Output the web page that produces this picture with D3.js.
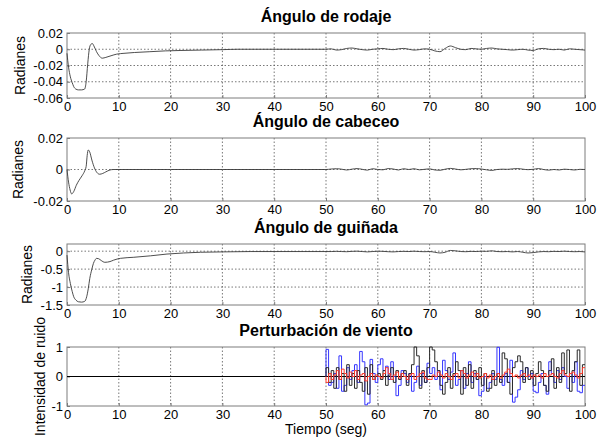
<!DOCTYPE html>
<html>
<head>
<meta charset="utf-8">
<script src="https://cdn.jsdelivr.net/npm/d3@7"></script>
<style>
  body { margin: 0; background: #fff; }
  svg { display: block; font-family: "Liberation Sans", Arial, sans-serif; }
</style>
</head>
<body>
<svg id="fig" width="600" height="444"></svg>
<script>
// ---- data ----------------------------------------------------------
const xTicks = [0, 10, 20, 30, 40, 50, 60, 70, 80, 90, 100];

const titles = ["Ángulo de rodaje", "Ángulo de cabeceo", "Ángulo de guiñada", "Perturbación de viento"];
const yLabels = ["Radianes", "Radianes", "Radianes", "Intensidad de ruido"];
const xLabel = "Tiempo (seg)";

const rollTicks = [0.02, 0, -0.02, -0.04, -0.06];
const pitchTicks = [0.02, 0, -0.02];
const yawTicks = [0, -0.5, -1, -1.5];
const noiseTicks = [1, 0, -1];

// response after the initial transient: one sample per second, t = 51 .. 100
const postT = [51,52,53,54,55,56,57,58,59,60,61,62,63,64,65,66,67,68,69,70,
               71,72,73,74,75,76,77,78,79,80,81,82,83,84,85,86,87,88,89,90,
               91,92,93,94,95,96,97,98,99,100];

// roll angle (rad)
const rollT = [0,0.3,0.65,1,1.3,1.7,2.2,2.8,3.4,3.7,4.0,4.3,4.6,4.9,5.2,5.7,6.2,6.8,7.5,8.5,
               9.6,11,13,16,19,22,26,30,33,40,50];
const rollV = [-0.005,-0.022,-0.034,-0.041,-0.046,-0.049,-0.050,-0.050,-0.049,-0.040,
               -0.018,0.0,0.006,0.007,0.004,-0.003,-0.008,-0.011,-0.010,-0.008,
               -0.006,-0.005,-0.004,-0.003,-0.002,-0.0015,-0.001,-0.0005,0,0,0];
const rollPost = [0.0005,-0.001,-0.0005,0.001,0.0015,0.0005,-0.0005,-0.001,0.0,0.0005,
                  0.001,0.0,-0.0005,0.0005,0.001,0.0,-0.001,-0.0005,0.0005,0.0,
                  -0.002,-0.003,0.001,0.004,0.002,0.0,-0.0005,0.001,0.0005,0.0,
                  0.001,0.0015,0.0005,0.0,-0.0005,-0.001,-0.0005,0.0,-0.001,-0.0015,
                  0.0005,0.001,0.0,-0.0005,0.0,-0.001,0.0005,0.0,-0.0005,-0.001];

// pitch angle (rad)
const pitchT = [0,0.3,0.6,0.9,1.3,1.8,2.3,2.9,3.4,3.7,3.9,4.1,4.4,4.8,5.3,5.8,6.3,6.9,7.5,8.3,
                9,20,30,40,50];
const pitchV = [0,-0.008,-0.013,-0.0155,-0.014,-0.010,-0.007,-0.004,-0.001,0.002,
                0.009,0.0124,0.011,0.006,0.001,-0.002,-0.003,-0.0025,-0.0015,-0.0003,
                0,0,0,0,0];
const pitchPost = [0.0003,0.0005,0.0002,-0.0003,0.0002,0.0006,0.0001,-0.0004,0.0005,0.0,
                   -0.0002,0.0006,0.0003,-0.0003,0.0005,0.0,0.0005,-0.0002,0.0001,0.0004,
                   -0.0003,-0.0005,0.0002,0.0007,0.0003,-0.0002,0.0001,0.0005,0.0006,0.0003,
                   -0.0002,-0.0006,0.0,0.0002,0.0001,0.0004,0.0006,0.0002,-0.0001,0.0001,
                   0.0006,0.0,-0.0004,0.0,-0.0003,0.0002,0.0,-0.0003,0.0001,0.0];

// yaw angle (rad)
const yawT = [0,0.3,0.65,1,1.3,1.7,2.2,2.8,3.4,3.8,4.1,4.4,4.8,5.1,5.4,5.7,6.1,6.6,7.3,8.3,
              9,10.3,12.9,16.1,19.3,22.5,25.8,30,35.5,40,50];
const yawV = [-0.11,-0.6,-0.9,-1.12,-1.27,-1.36,-1.41,-1.42,-1.40,-1.27,
              -1.05,-0.76,-0.5,-0.34,-0.25,-0.2,-0.21,-0.26,-0.31,-0.29,
              -0.25,-0.2,-0.17,-0.13,-0.08,-0.05,-0.03,-0.02,-0.01,-0.01,-0.01];
const yawPost = [-0.01,-0.005,-0.01,-0.015,-0.005,0.0,-0.01,-0.02,-0.01,0.0,
                 -0.005,-0.015,-0.02,-0.01,-0.005,-0.01,0.0,-0.01,-0.015,-0.01,
                 -0.03,-0.05,-0.03,0.02,0.01,-0.01,-0.015,-0.005,-0.01,0.0,
                 -0.005,0.01,-0.01,-0.015,-0.01,-0.02,-0.01,-0.03,-0.05,-0.04,
                 -0.02,-0.01,-0.015,-0.005,-0.01,0.0,-0.01,-0.015,-0.01,-0.02];

// wind disturbance: held values, one every 0.5 s from t = 50
const noiseStart = 50, noiseStep = 0.5;
const windBlue = [0.92,-0.3,-0.2,0.1,-0.4,0.7,-0.5,-0.3,0.3,-0.1,
                  0.2,0.4,-0.2,0.85,0.5,-0.96,-0.9,0.58,0.1,-0.2,
                  0.4,0.6,0.2,0.35,-0.1,0.5,0.0,-0.65,-0.3,0.2,
                  0.1,-0.2,0.1,-0.5,-0.2,0.35,-0.3,0.1,-0.2,0.45,
                  0.1,0.3,-0.1,0.2,-0.45,0.55,0.2,-0.1,0.15,0.8,
                  -0.3,-0.1,0.2,-0.4,0.1,0.5,-0.2,0.1,-0.1,-0.65,
                  -0.5,0.0,-0.4,-0.2,0.1,-0.1,0.99,-0.1,-0.3,0.1,
                  -0.2,0.55,-0.87,-0.7,-0.45,0.2,-0.1,0.3,0.0,0.1,
                  -0.5,-0.55,-0.2,0.1,-0.3,-0.6,0.5,0.1,-0.2,0.2,
                  -0.1,0.3,0.0,-0.4,0.1,-0.2,0.5,-0.5,-0.55,-0.3];
const windBlack = [0.3,-0.2,0.2,-0.4,0.3,-0.1,0.1,-0.5,0.4,-0.3,
                   0.1,-0.4,0.2,-0.2,-0.5,0.3,-0.6,0.4,-0.1,0.0,
                   0.1,-0.1,0.2,-0.3,0.05,0.3,-0.2,0.2,-0.1,0.1,
                   0.2,-0.3,0.1,0.4,1.0,0.7,-0.4,0.2,-0.2,0.3,
                   1.0,0.9,0.5,0.2,-0.3,-0.6,-0.2,0.3,-0.4,0.1,
                   0.5,0.2,-0.6,0.3,-0.3,0.4,-0.4,0.2,-0.1,0.3,
                   -0.3,0.1,-0.5,-0.4,0.2,-0.3,0.1,-0.2,0.8,0.6,
                   -0.2,-0.6,0.3,0.5,0.7,0.5,-0.2,0.3,-0.1,0.2,
                   -0.3,0.1,0.5,0.2,-0.3,-0.5,0.2,0.6,-0.4,0.3,
                   -0.2,0.8,0.1,0.9,-0.5,0.2,0.5,0.9,-0.3,0.4];
const windRed = [-0.2,0.1,-0.1,0.05,0.2,-0.1,0.25,0.1,-0.05,0.15,
                 0.0,0.2,-0.1,0.05,0.1,-0.15,0.0,0.1,-0.1,0.05,
                 0.0,-0.05,0.1,0.3,0.1,-0.1,0.05,0.15,-0.05,0.1,
                 0.0,-0.1,0.05,0.1,-0.1,0.0,0.1,0.15,-0.05,-0.1,
                 -0.1,0.05,0.0,0.15,0.05,-0.05,0.1,0.0,-0.1,0.05,
                 0.1,-0.05,0.2,0.1,-0.05,0.05,0.15,0.0,0.1,-0.05,
                 0.0,0.1,-0.05,0.05,-0.1,0.0,0.1,-0.05,0.05,0.15,
                 0.25,0.1,0.0,0.05,-0.05,0.05,0.1,0.0,0.05,-0.05,
                 0.05,0.0,0.05,-0.05,0.1,0.0,0.05,0.1,0.0,-0.05,
                 0.1,0.2,0.05,0.0,0.1,0.15,0.05,-0.05,0.1,0.3];

// ---- layout --------------------------------------------------------
const svg = d3.select("#fig");
const plotL = 67, plotR = 585;
const x = d3.scaleLinear().domain([0, 100]).range([plotL, plotR]);

const panels = [
  { top: 33,  bottom: 98,  domain: [-0.06, 0.02], ticks: rollTicks,  hGrid: [0, -0.02, -0.04], labelX: 25, titleY: 22 },
  { top: 138, bottom: 201, domain: [-0.02, 0.02], ticks: pitchTicks, hGrid: [0],               labelX: 23, titleY: 127 },
  { top: 244, bottom: 305, domain: [-1.5, 0.2],   ticks: yawTicks,   hGrid: [0, -0.5, -1],     labelX: 32, titleY: 233 },
  { top: 347, bottom: 406, domain: [-1, 1],       ticks: noiseTicks, hGrid: [],                labelX: 45, titleY: 336 }
];

const fmt = v => String(v);
const gridColor = "#555";
const boxColor = "#7d7d7d";

panels.forEach((p, i) => {
  const y = d3.scaleLinear().domain(p.domain).range([p.bottom, p.top]);
  p.y = y;
  const g = svg.append("g");

  // dotted grid
  g.append("g").selectAll("line").data(xTicks.slice(1, -1)).join("line")
    .attr("x1", d => x(d)).attr("x2", d => x(d))
    .attr("y1", p.top).attr("y2", p.bottom)
    .attr("stroke", gridColor).attr("stroke-width", 0.8)
    .attr("stroke-dasharray", "1.5,2");
  g.append("g").selectAll("line").data(p.hGrid).join("line")
    .attr("x1", plotL).attr("x2", plotR)
    .attr("y1", d => y(d)).attr("y2", d => y(d))
    .attr("stroke", gridColor).attr("stroke-width", 0.8)
    .attr("stroke-dasharray", "1.5,2");

  // axes
  const ax = g.append("g").attr("transform", `translate(0,${p.bottom})`)
    .call(d3.axisBottom(x).tickValues(xTicks).tickFormat(fmt).tickSizeInner(-3).tickSizeOuter(0).tickPadding(4));
  const ay = g.append("g").attr("transform", `translate(${plotL},0)`)
    .call(d3.axisLeft(y).tickValues(p.ticks).tickFormat(fmt).tickSizeInner(-3).tickSizeOuter(0).tickPadding(4));
  [ax, ay].forEach(a => {
    a.select(".domain").remove();
    a.selectAll(".tick line").attr("stroke", boxColor);
    a.selectAll(".tick text").attr("fill", "#000").style("font-size", "13px")
      .style("font-family", "'Liberation Sans', Arial, sans-serif");
  });
  ax.selectAll(".tick text").attr("dy", "0.71em");

  // box
  g.append("rect").attr("x", plotL).attr("y", p.top)
    .attr("width", plotR - plotL).attr("height", p.bottom - p.top)
    .attr("fill", "none").attr("stroke", boxColor).attr("stroke-width", 1);

  // title
  g.append("text").attr("x", (plotL + plotR) / 2).attr("y", p.titleY)
    .attr("text-anchor", "middle").style("font-size", "16px").style("font-weight", "bold")
    .text(titles[i]);

  // y label
  g.append("text")
    .attr("transform", `translate(${p.labelX},${(p.top + p.bottom) / 2}) rotate(-90)`)
    .attr("text-anchor", "middle").style("font-size", "14px")
    .text(yLabels[i]);
});

// x label
svg.append("text").attr("x", (plotL + plotR) / 2).attr("y", 434)
  .attr("text-anchor", "middle").style("font-size", "14px").text(xLabel);

// ---- angle responses -----------------------------------------------
const angleSeries = [
  { t: rollT.concat(postT),  v: rollV.concat(rollPost) },
  { t: pitchT.concat(postT), v: pitchV.concat(pitchPost) },
  { t: yawT.concat(postT),   v: yawV.concat(yawPost) }
];
angleSeries.forEach((s, i) => {
  const y = panels[i].y;
  const pts = s.t.map((t, k) => [t, s.v[k]]);
  const line = d3.line().x(d => x(d[0])).y(d => y(d[1])).curve(d3.curveMonotoneX);
  svg.append("path").datum(pts).attr("d", line)
    .attr("fill", "none").attr("stroke", "#3a3a3a").attr("stroke-width", 0.9);
});

// ---- wind disturbance ----------------------------------------------
const pn = panels[3];
svg.append("line").attr("x1", x(0)).attr("x2", x(100))
  .attr("y1", pn.y(0)).attr("y2", pn.y(0))
  .attr("stroke", "#000").attr("stroke-width", 1);

const stepLine = d3.line().x(d => x(d[0])).y(d => pn.y(d[1])).curve(d3.curveStepAfter);
[[windBlue, "#3535ff"], [windBlack, "#2a2a2a"], [windRed, "#ff3a2a"]].forEach(([vals, col]) => {
  const pts = [[noiseStart, 0]];
  vals.forEach((v, k) => pts.push([noiseStart + k * noiseStep, v]));
  pts.push([noiseStart + vals.length * noiseStep, vals[vals.length - 1]]);
  svg.append("path").datum(pts).attr("d", stepLine)
    .attr("fill", "none").attr("stroke", col).attr("stroke-width", 1);
});
</script>
</body>
</html>
